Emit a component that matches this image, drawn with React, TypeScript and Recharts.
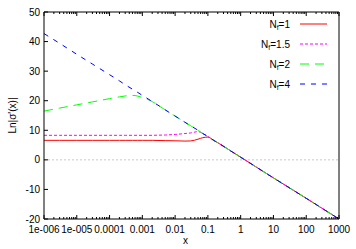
import { LineChart, Line, XAxis, YAxis, ReferenceLine, Legend, Label } from "recharts";

const xValues = [
  1e-6, 3e-6, 1e-5, 3e-5, 1e-4, 2e-4, 3e-4, 5e-4, 7e-4, 1e-3, 1.5e-3, 2e-3, 3e-3, 5e-3,
  1e-2, 2e-2, 3e-2, 5e-2, 7e-2, 0.1, 0.15, 0.2, 0.5, 1, 10, 100, 1000,
];

const nf1 = [
  6.6, 6.6, 6.6, 6.6, 6.6, 6.6, 6.6, 6.6, 6.6, 6.6, 6.6, 6.6, 6.55, 6.5,
  6.45, 6.35, 6.4, 7.0, 7.5, 7.7, 6.6, 5.8, 3.0, 0.9, -6.1, -13.0, -20.0,
];
const nf15 = [
  8.3, 8.3, 8.3, 8.3, 8.3, 8.3, 8.3, 8.3, 8.3, 8.3, 8.3, 8.3, 8.35, 8.4,
  8.6, 8.9, 9.1, 9.55, 8.9, 7.9, 6.6, 5.8, 3.0, 0.9, -6.1, -13.0, -20.0,
];
const nf2 = [
  16.5, 17.5, 18.6, 19.6, 20.7, 21.3, 21.6, 21.8, 21.6, 21.1, 20.4, 19.7, 18.5, 16.9,
  14.8, 12.7, 11.5, 10.0, 8.9, 7.9, 6.6, 5.8, 3.0, 0.9, -6.1, -13.0, -20.0,
];
const nf4 = [
  42.7, 39.4, 35.7, 32.4, 28.8, 26.7, 25.4, 23.9, 22.9, 21.8, 20.6, 19.7, 18.5, 16.9,
  14.8, 12.7, 11.5, 10.0, 8.9, 7.9, 6.6, 5.8, 3.0, 0.9, -6.1, -13.0, -20.0,
];

const xMajor = [1e-6, 1e-5, 1e-4, 1e-3, 1e-2, 0.1, 1, 10, 100, 1000];
const xLabels = ["1e-006", "1e-005", "0.0001", "0.001", "0.01", "0.1", "1", "10", "100", "1000"];
const yTicks = [-20, -10, 0, 10, 20, 30, 40, 50];

const series = [
  { key: "nf1", nf: "1", color: "#ff0000", dash: undefined },
  { key: "nf15", nf: "1.5", color: "#ff00ff", dash: "3 2" },
  { key: "nf2", nf: "2", color: "#00ff00", dash: "9 6" },
  { key: "nf4", nf: "4", color: "#0000ff", dash: "5 6" },
];

const data = xValues.map((x, i) => ({
  x,
  nf1: nf1[i],
  nf15: nf15[i],
  nf2: nf2[i],
  nf4: nf4[i],
}));

// minor ticks 2..9 in every decade
const xMinor: number[] = [];
xMajor.slice(0, -1).forEach((d) => {
  for (let m = 2; m <= 9; m++) xMinor.push(d * m);
});
const xTicks = [...xMajor, ...xMinor];

const font = "'Liberation Sans', Arial, sans-serif";

function BottomTick(props: any) {
  const { x, y, payload } = props;
  const i = xMajor.indexOf(payload.value);
  return (
    <g>
      <line x1={x} x2={x} y1={y} y2={y - (i >= 0 ? 4 : 2)} stroke="#000" />
      {i >= 0 && (
        <text x={x} y={y + 14} textAnchor="middle" fontSize={10} fontFamily={font} fill="#000">
          {xLabels[i]}
        </text>
      )}
    </g>
  );
}

function TopTick(props: any) {
  const { x, y, payload } = props;
  const major = xMajor.indexOf(payload.value) >= 0;
  return <line x1={x} x2={x} y1={y} y2={y + (major ? 4 : 2)} stroke="#000" />;
}

function LeftTick(props: any) {
  const { x, y, payload } = props;
  return (
    <g>
      <line x1={x} x2={x + 4} y1={y} y2={y} stroke="#000" />
      <text x={x - 4} y={y + 3.5} textAnchor="end" fontSize={10} fontFamily={font} fill="#000">
        {payload.value}
      </text>
    </g>
  );
}

function RightTick(props: any) {
  const { x, y } = props;
  return <line x1={x} x2={x - 4} y1={y} y2={y} stroke="#000" />;
}

function LegendBox() {
  return (
    <svg width={356} height={100} style={{ display: "block" }}>
      {series.map((s, i) => {
        const cy = 24 + i * 20;
        return (
          <g key={s.key}>
            <text x={290} y={cy + 3.5} textAnchor="end" fontSize={10} fontFamily={font} fill="#000">
              N
              <tspan dy={2.5} fontSize={7}>f</tspan>
              <tspan dy={-2.5}>={s.nf}</tspan>
            </text>
            <line x1={300} x2={327} y1={cy} y2={cy} stroke={s.color} strokeDasharray={s.dash} />
          </g>
        );
      })}
    </svg>
  );
}

export default function App() {
  return (
    <div style={{ position: "absolute", left: 0, top: 0 }}>
      <LineChart width={356} height={249} data={data} margin={{ top: 0, right: 0, bottom: 0, left: 0 }}>
        <XAxis
          xAxisId="b"
          dataKey="x"
          type="number"
          scale="log"
          domain={[1e-6, 1000]}
          allowDataOverflow
          ticks={xTicks}
          interval={0}
          height={30}
          tickSize={0}
          tickMargin={0}
          tickLine={false}
          tick={<BottomTick />}
          axisLine={{ stroke: "#000" }}
        >
          <Label
            content={(p: any) => (
              <text
                x={p.viewBox.x + p.viewBox.width / 2 - 6}
                y={p.viewBox.y + 25}
                textAnchor="middle"
                fontSize={10}
                fontFamily={font}
                fill="#000"
              >
                x
              </text>
            )}
          />
        </XAxis>
        <XAxis
          xAxisId="t"
          orientation="top"
          dataKey="x"
          type="number"
          scale="log"
          domain={[1e-6, 1000]}
          allowDataOverflow
          ticks={xTicks}
          interval={0}
          height={12}
          tickSize={0}
          tickMargin={0}
          tickLine={false}
          tick={<TopTick />}
          axisLine={{ stroke: "#000" }}
        />
        <YAxis
          yAxisId="l"
          type="number"
          domain={[-20, 50]}
          ticks={yTicks}
          interval={0}
          width={44}
          tickSize={0}
          tickMargin={0}
          tickLine={false}
          tick={<LeftTick />}
          axisLine={{ stroke: "#000" }}
        >
          <Label
            content={(p: any) => {
              const cx = p.viewBox.x + 12;
              const cy = p.viewBox.y + p.viewBox.height / 2;
              return (
                <text
                  x={cx}
                  y={cy}
                  transform={`rotate(-90 ${cx} ${cy})`}
                  textAnchor="middle"
                  dominantBaseline="central"
                  fontSize={10}
                  fontFamily={font}
                  fill="#000"
                >
                  Ln|σ'(x)|
                </text>
              );
            }}
          />
        </YAxis>
        <YAxis
          yAxisId="r"
          orientation="right"
          type="number"
          domain={[-20, 50]}
          ticks={yTicks}
          interval={0}
          width={17}
          tickSize={0}
          tickMargin={0}
          tickLine={false}
          tick={<RightTick />}
          axisLine={{ stroke: "#000" }}
        />
        <ReferenceLine xAxisId="b" yAxisId="l" y={0} stroke="#c8c8c8" strokeDasharray="2 2" />
        <Legend
          layout="vertical"
          align="center"
          verticalAlign="middle"
          content={() => <LegendBox />}
          wrapperStyle={{ position: "absolute", left: 0, top: 0, width: 356, height: 100 }}
        />
        {series.map((s) => (
          <Line
            key={s.key}
            xAxisId="b"
            yAxisId="l"
            dataKey={s.key}
            type="monotone"
            stroke={s.color}
            strokeWidth={1}
            strokeDasharray={s.dash}
            dot={false}
            activeDot={false}
            isAnimationActive={false}
          />
        ))}
      </LineChart>
    </div>
  );
}
